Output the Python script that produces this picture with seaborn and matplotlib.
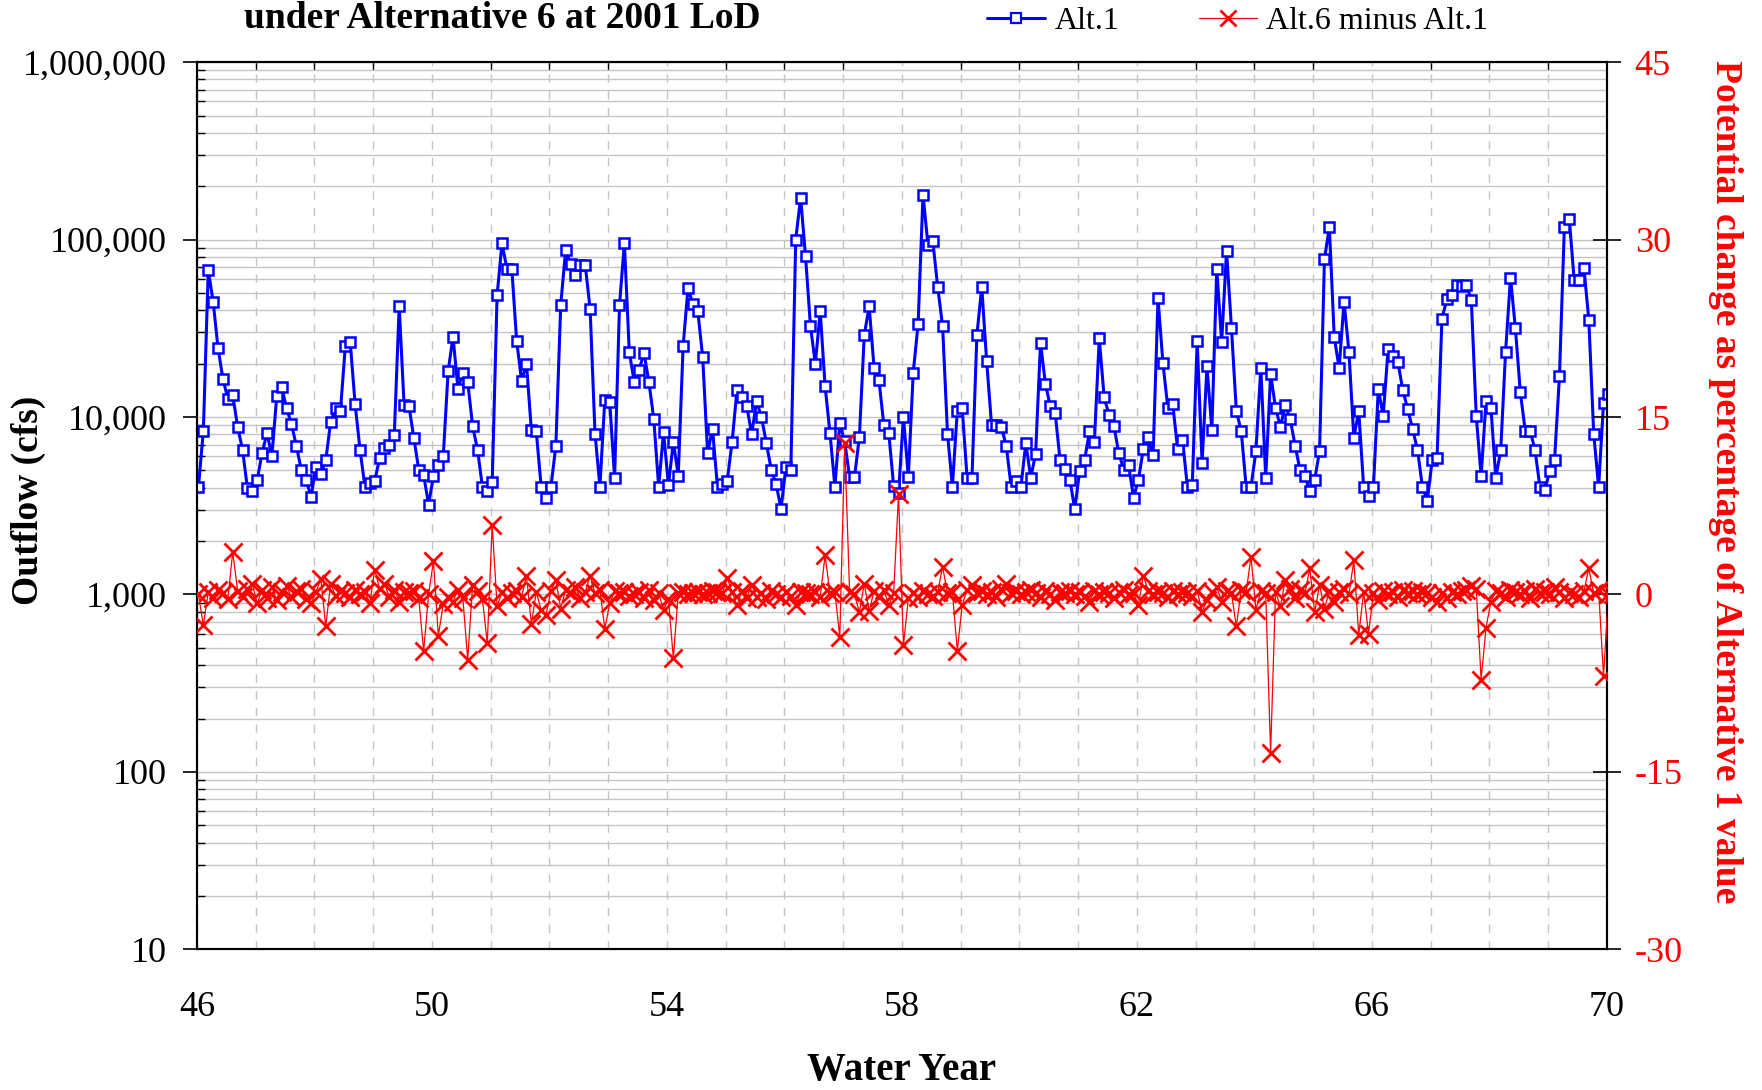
import numpy as np
import pandas as pd
import matplotlib
matplotlib.use("Agg")
import matplotlib.pyplot as plt
import matplotlib.ticker as mticker
from matplotlib.lines import Line2D
import seaborn as sns

# ---------------- data (monthly, water years 46-70) ----------------
alt1_outflow = [
    4050, 8340, 67300, 44600, 24400, 16400, 12700, 13300, 8800, 6550, 3970, 3830,          # 46
    4430, 6280, 8110, 6040, 13200, 14700, 11200, 9130, 6870, 5040, 4430, 3540,             # 47
    5260, 4750, 5700, 9380, 11200, 10800, 25200, 26400, 11800, 6550, 4050, 4250,           # 48
    4360, 5850, 6700, 6950, 7900, 42200, 11700, 11500, 7610, 5040, 4720, 3210,             # 49
    4630, 5350, 6010, 18100, 28400, 14400, 17800, 15800, 8890, 6550, 4050, 3830,           # 50
    4290, 48500, 95300, 68700, 68700, 26800, 16000, 19950, 8430, 8300, 4050, 3520,         # 51
    4050, 6870, 42900, 87400, 72900, 63400, 71800, 71800, 40700, 8070, 4050, 12500,        # 52
    12200, 4550, 42700, 95300, 23300, 15800, 18300, 23100, 15800, 9790, 4050, 8200,        # 53
    4130, 7250, 4680, 25100, 53500, 43100, 39400, 21700, 6240, 8610, 4060, 4170,           # 54
    4360, 7250, 14200, 12900, 11560, 7980, 12250, 10000, 7140, 5060, 4170, 3050,           # 55
    5230, 5060, 100000, 172600, 80700, 32700, 19950, 39400, 14900, 8090, 4050, 9210,       # 56
    7300, 4570, 4570, 7740, 29000, 42000, 19000, 16100, 9010, 8160, 4080, 3720,            # 57
    10000, 4600, 17800, 33500, 179000, 93800, 97900, 54000, 32500, 8070, 4050, 10800,      # 58
    11200, 4550, 4550, 28900, 54000, 20600, 9030, 9030, 8790, 6910, 4050, 4380,            # 59
    4050, 7140, 4550, 6210, 26200, 15350, 11500, 10500, 5700, 5070, 4410, 3030,            # 60
    4990, 5730, 8290, 7250, 27800, 12900, 10270, 8890, 6240, 5060, 5350, 3520,             # 61
    4430, 6620, 7690, 6110, 46700, 20200, 11300, 11900, 6620, 7450, 4050, 4130,            # 62
    26900, 5490, 19300, 8470, 68700, 26400, 86500, 31800, 10800, 8340, 4050, 4050,         # 63
    6440, 19000, 4550, 17500, 11300, 8790, 11700, 9740, 6910, 5040, 4680, 3810,            # 64
    4430, 6440, 77800, 117400, 28100, 18900, 44600, 23300, 7650, 10800, 4050, 3610,        # 65
    4050, 14400, 10160, 24300, 22100, 20400, 14200, 11100, 8560, 6550, 4050, 3370,         # 66
    5700, 5890, 35900, 46000, 48800, 55800, 55000, 55800, 45500, 10160, 4650, 12300,       # 67
    11300, 4550, 6480, 23400, 61100, 31600, 13900, 8380, 8380, 6550, 4050, 3880,           # 68
    4960, 5760, 17000, 117400, 131400, 59500, 59500, 69100, 35200, 8030, 4050, 11930,      # 69
    13400, 8000,                                                                           # 70
]

alt6_minus_alt1_pct = [
    0.0, -2.6, 0.2, -0.3, 0.4, 0.1, -0.4, 3.6, 0.3, -0.2, 0.5, 0.9,          # 46
    -0.75, 0.4, -0.3, 0.6, -0.5, 0.2, 0.7, -0.2, 0.3, 0.5, -0.4, -0.75,      # 47
    0.2, 1.3, -2.7, 0.9, -0.1, 0.3, 0.1, -0.2, 0.4, 0.0, 0.2, -0.75,         # 48
    2.1, 0.5, 0.9, -0.2, 0.4, -0.6, 0.2, 0.1, 0.3, -0.3, -4.8, 0.0,          # 49
    2.8, -3.5, -0.8, -0.2, -0.6, 0.4, -0.3, -5.5, 0.8, 0.3, -0.4, -4.1,      # 50
    5.9, -1.0, 0.2, -0.3, 0.1, 0.3, -0.2, 1.6, -2.5, 0.2, -1.3, -1.7,        # 51
    0.3, 1.2, -1.2, 0.4, 0.1, 0.6, -0.3, 0.2, 1.6, 0.1, 0.4, -2.9,           # 52
    -0.75, 0.3, 0.1, 0.2, -0.1, 0.0, 0.2, -0.3, 0.4, -0.5, 0.1, -1.3,        # 53
    -0.4, -5.4, 0.1, 0.2, 0.0, 0.1, 0.2, 0.0, 0.1, 0.3, 0.2, 0.1,            # 54
    1.4, 0.2, -0.9, 0.3, -0.3, 0.8, -0.2, 0.1, -0.4, 0.3, 0.0, -0.2,         # 55
    0.2, -0.1, -0.9, 0.2, 0.1, 0.0, 0.2, -0.2, 3.3, 0.1, 0.2, -3.6,          # 56
    12.8, 0.2, 0.0, -1.5, 0.9, -1.4, 0.3, -0.2, 0.4, -0.9, 0.1, 8.5,         # 57
    -4.3, -0.3, 0.1, -0.2, 0.3, 0.0, -0.1, 0.2, 2.35, 0.1, 0.2, -4.75,       # 58
    -0.9, 0.4, 0.8, 0.1, 0.3, 0.0, 0.2, -0.2, 0.5, 0.9, 0.1, 0.3,            # 59
    0.0, 0.2, 0.4, 0.1, -0.2, 0.3, 0.0, -0.5, 0.2, 0.1, 0.3, 0.0,            # 60
    0.2, -0.1, -0.6, 0.3, 0.0, 0.2, 0.1, -0.3, 0.2, 0.4, 0.0, 0.1,           # 61
    -0.9, 1.6, 0.3, 0.0, 0.2, 0.1, -0.2, 0.3, 0.0, 0.2, 0.1, -0.1,           # 62
    0.3, -1.45, -0.5, 0.2, 0.6, -0.6, 0.3, 0.1, -2.7, 0.4, 0.2, 3.2,         # 63
    -1.3, 0.3, 0.1, -13.4, 0.2, -1.0, 1.2, 0.5, -0.3, 0.4, 0.1, 2.2,         # 64
    -1.5, 0.8, -1.2, 0.3, -0.6, 0.2, 0.5, 0.0, 2.9, -3.4, 0.2, -3.3,         # 65
    0.1, -0.5, 0.3, 0.0, 0.2, -0.2, 0.4, 0.1, 0.3, 0.0, 0.2, 0.1,            # 66
    -0.2, -0.6, 0.1, -0.3, 0.2, 0.0, 0.3, 0.4, 0.7, 0.5, -7.2, -2.8,         # 67
    -0.6, 0.3, 0.1, -0.2, 0.4, 0.2, 0.0, 0.3, -0.3, 0.5, 0.1, 0.2,           # 68
    0.0, 0.6, 0.2, -0.3, 0.1, 0.0, -0.2, 0.3, 2.2, 0.1, 0.4, -6.9,           # 69
    0.0, 0.0,                                                                # 70
]

start_year = 46
x_major_ticks = [46, 50, 54, 58, 62, 66, 70]
left_ticks = [10, 100, 1000, 10000, 100000, 1000000]
right_ticks = [-30, -15, 0, 15, 30, 45]

title_text = "under Alternative 6 at 2001 LoD"
legend_labels = ["Alt.1", "Alt.6 minus Alt.1"]
x_label = "Water Year"
left_label = "Outflow (cfs)"
right_label = "Potential change as percentage of Alternative 1 value"

# ---------------- build table ----------------
n = len(alt1_outflow)
month_index = np.arange(n)
df = pd.DataFrame({
    "water_year": start_year + (month_index + 0.3) / 12.0,
    "alt1": alt1_outflow,
    "diff": alt6_minus_alt1_pct,
})

# ---------------- style ----------------
sns.set_style("white")
plt.rcParams["font.family"] = ["Liberation Serif", "DejaVu Serif"]
plt.rcParams["axes.unicode_minus"] = False
plt.rcParams["text.color"] = "black"
plt.rcParams["axes.labelcolor"] = "black"
plt.rcParams["xtick.color"] = "black"
plt.rcParams["ytick.color"] = "black"

BLUE = "#0000FF"
RED = "#FF0000"

fig = plt.figure(figsize=(17.62, 10.90), dpi=100)
ax = fig.add_axes([0.1118, 0.129, 0.8002, 0.814])
ax2 = ax.twinx()

sns.lineplot(data=df, x="water_year", y="alt1", ax=ax, color=BLUE,
             linewidth=2.2, marker="s", markersize=7.5,
             markerfacecolor="white", markeredgecolor=BLUE,
             markeredgewidth=1.8, legend=False, zorder=3)
sns.lineplot(data=df, x="water_year", y="diff", ax=ax2, color=RED,
             linewidth=0.9, marker="x", markersize=13,
             markeredgecolor=RED, markeredgewidth=2.0, legend=False, zorder=3)

# ---------------- left axis ----------------
ax.set_yscale("log")
ax.set_ylim(10, 1e6)
ax.set_xlim(46, 70)
ax.yaxis.set_major_locator(mticker.FixedLocator(left_ticks))
ax.yaxis.set_minor_locator(mticker.LogLocator(base=10, subs=np.arange(2, 10)))
ax.yaxis.set_minor_formatter(mticker.NullFormatter())
ax.yaxis.set_major_formatter(mticker.FuncFormatter(lambda v, p: f"{v:,.0f}"))
ax.xaxis.set_major_locator(mticker.FixedLocator(x_major_ticks))
ax.xaxis.set_minor_locator(mticker.MultipleLocator(1))
ax.xaxis.set_major_formatter(mticker.FuncFormatter(lambda v, p: f"{v:.0f}"))

ax.set_axisbelow(True)
ax.grid(True, axis="y", which="both", color="#c4c4c4", linewidth=1.0, linestyle="-")
ax.grid(True, axis="x", which="both", color="#c4c4c4", linewidth=1.0,
        linestyle=(0, (6, 6)))

ax.tick_params(axis="y", which="major", direction="out", length=10, width=1.2,
               labelsize=26, pad=12, colors="black")
ax.tick_params(axis="y", which="minor", direction="in", length=6, width=1.0,
               colors="black")
ax.tick_params(axis="x", which="major", direction="out", length=6, width=1.2,
               labelsize=26, pad=24, top=False, colors="black")
ax.tick_params(axis="x", which="minor", direction="in", length=6, width=1.0,
               top=True, colors="black")

ax.set_xlabel(x_label, fontsize=28, fontweight="bold", labelpad=20, color="black")
ax.set_ylabel("")

for s in ax.spines.values():
    s.set_color("black")
    s.set_linewidth(1.5)

# ---------------- right axis ----------------
ax2.set_ylim(-30, 45)
ax2.set_yticks(right_ticks)
ax2.set_yticklabels([str(t) for t in right_ticks])
ax2.tick_params(axis="y", which="major", direction="inout", length=20, width=1.2,
                labelsize=26, labelcolor=RED, color="black", pad=10)
ax2.grid(False)
ax2.set_ylabel("")
ax2.set_xlim(46, 70)
for s in ax2.spines.values():
    s.set_color("black")
    s.set_linewidth(1.5)

# ---------------- axis titles placed in figure coords ----------------
fig.text(28 / 1762, 1 - 500 / 1090, left_label, rotation=90, ha="center",
         va="center", fontsize=27, fontweight="bold", color="black")
fig.text(1725 / 1762, 1 - 482 / 1090, right_label, rotation=270, ha="center",
         va="center", fontsize=27, fontweight="bold", color=RED)

# ---------------- title & legend ----------------
fig.text(0.285, 0.999, title_text, ha="center", va="top",
         fontsize=27, fontweight="bold", color="black")

handles = [
    Line2D([0], [0], color=BLUE, linewidth=2.2, marker="s", markersize=7,
           markerfacecolor="white", markeredgecolor=BLUE, markeredgewidth=1.6),
    Line2D([0], [0], color=RED, linewidth=0.9, marker="x", markersize=12,
           markeredgecolor=RED, markeredgewidth=2.0),
]
leg = fig.legend(handles, legend_labels, loc="center", bbox_to_anchor=(0.7025, 0.98),
                 ncol=2, frameon=False, fontsize=23, handlelength=1.8,
                 handletextpad=0.3, columnspacing=2.5)
for t in leg.get_texts():
    t.set_color("black")

fig.savefig("out.png", dpi=100)
